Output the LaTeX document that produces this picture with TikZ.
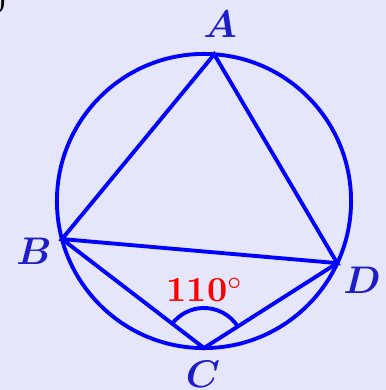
\documentclass[tikz,border=0pt]{standalone}
\usepackage{amsmath}
\usepackage{bm}
\usepackage{tikz}
\usetikzlibrary{angles, calc}
\usepackage{xcolor}
\definecolor{bgviolet}{RGB}{230,230,250}
\definecolor{ptblue}{RGB}{30,30,200}
\tikzstyle{edge} = [blue, line width=1.1pt]
\tikzstyle{vertex} = [text=ptblue, font=\fontsize{11}{13}\selectfont, inner sep=0pt]
\tikzstyle{anglabel} = [text=red, font=\bfseries, inner sep=0pt]

\begin{document}
\begin{tikzpicture}[x=0.01cm, y=0.01cm]
  % background
  \fill[bgviolet] (-204,-189) rectangle (182,201);
  \useasboundingbox (-204,-189) rectangle (182,201);
  \node[anchor=base east, inner sep=0pt] (cut) at (-197,189) {0};

  % points on the circle
  \coordinate (O) at (0,0);
  \coordinate (A) at (86:147);
  \coordinate (B) at (195:147);
  \coordinate (C) at (270:147);
  \coordinate (D) at (335:147);

  % circle and chords
  \draw[edge] (O) circle[radius=1.47cm];
  \draw[edge] (A) -- (B) -- (D) -- cycle;
  \draw[edge] (B) -- (C) -- (D);
  \pic[draw=blue, line width=1.1pt, angle radius=0.4cm] {angle = D--C--B};

  % labels
  \node[vertex] (labA) at (16,177) {$\bm{A}$};
  \node[vertex] (labB) at (-170,-50) {$\bm{B}$};
  \node[vertex] (labC) at (-1,-173) {$\bm{C}$};
  \node[vertex] (labD) at (158,-79) {$\bm{D}$};
  \node[anglabel] (ang) at (1,-89) {110$^\circ$};
\end{tikzpicture}
\end{document}
